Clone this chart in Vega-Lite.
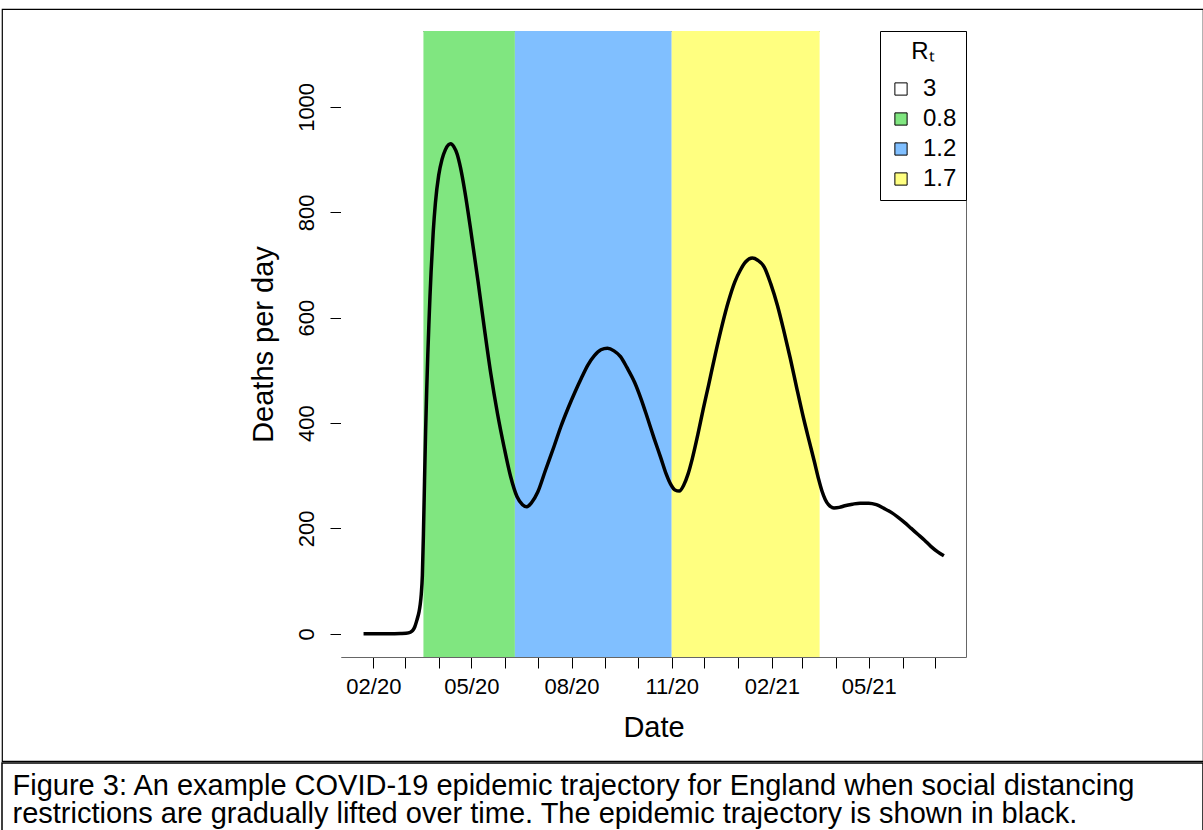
{
  "$schema": "https://vega.github.io/schema/vega-lite/v6.json",
  "background": "white",
  "padding": {"left": 1, "right": 1, "top": 8, "bottom": 0},
  "spacing": 0,
  "config": {
    "font": "Liberation Sans",
    "view": {"stroke": null},
    "axis": {"labelColor": "black", "titleColor": "black", "tickColor": "black", "labelFont": "Liberation Sans", "titleFont": "Liberation Sans", "domainColor": "#666666", "grid": false, "zindex": 1}
  },
  "vconcat": [
    {
      "width": 1201,
      "height": 752,
      "view": {"stroke": "black", "strokeWidth": 1.2},
      "resolve": {"axis": {"x": "independent", "y": "independent"}},
      "layer": [
        {
          "data": {"values": [
            {"Rt": "3", "start": "2020-01-02T07:00:00Z", "end": "2020-03-18"},
            {"Rt": "0.8", "start": "2020-03-18", "end": "2020-06-10"},
            {"Rt": "1.2", "start": "2020-06-10", "end": "2020-11-01"},
            {"Rt": "1.7", "start": "2020-11-01", "end": "2021-03-17"},
            {"Rt": "3", "start": "2021-03-17", "end": "2021-07-29T07:00:00Z"}
          ]},
          "mark": {"type": "rect"},
          "encoding": {
            "x": {
              "field": "start", "type": "temporal",
              "scale": {"type": "utc", "domain": [{"year": 2020, "month": 1, "date": 2, "hours": 7, "utc": true}, {"year": 2021, "month": 7, "date": 29, "hours": 7, "utc": true}], "range": [339, 964], "nice": false},
              "axis": {
                "orient": "bottom", "offset": -104,
                "title": "Date", "titleFontSize": 29, "titleFontWeight": "normal", "titlePadding": 16,
                "tickCount": {"interval": "month", "step": 1},
                "labelExpr": "utcmonth(datum.value) % 3 == 1 ? utcFormat(datum.value, '%m/%y') : ''",
                "labelOverlap": false, "labelFlush": false, "labelFontSize": 22, "labelPadding": 8,
                "tickSize": 11, "domain": true
              }
            },
            "x2": {"field": "end"},
            "y": {
              "datum": 1144, "type": "quantitative",
              "scale": {"domain": [-44, 1144], "range": [648, 22], "nice": false, "zero": false},
              "axis": {
                "orient": "left", "offset": -339,
                "title": "Deaths per day", "titleFontSize": 29, "titleFontWeight": "normal", "titlePadding": 17,
                "values": [0, 200, 400, 600, 800, 1000], "format": "d",
                "labelAngle": -90, "labelAlign": "center", "labelBaseline": "bottom", "labelFontSize": 22, "labelPadding": 12,
                "tickSize": 11, "domain": true
              }
            },
            "y2": {"datum": -44},
            "color": {
              "field": "Rt", "type": "nominal",
              "scale": {"domain": ["3", "0.8", "1.2", "1.7"], "range": ["#FFFFFF", "#80E680", "#80BFFF", "#FFFF80"]},
              "legend": {
                "title": "Rₜ", "orient": "none", "legendX": 878, "legendY": 22,
                "strokeColor": "black", "fillColor": "white", "padding": 9,
                "titleFontSize": 24, "titleFontWeight": "normal", "titleAnchor": "middle", "titleAlign": "center", "titlePadding": 13, "titleColor": "black", "titleFont": "Liberation Sans",
                "labelFontSize": 24, "labelColor": "black", "labelOffset": 10, "labelFont": "Liberation Sans",
                "symbolType": "square", "symbolSize": 150, "symbolStrokeColor": "black", "symbolStrokeWidth": 1, "symbolOpacity": 1,
                "rowPadding": 6
              }
            }
          }
        },
        {
          "data": {"values": [
            {"date": "2020-01-23", "deaths": 0},
            {"date": "2020-02-01", "deaths": 0},
            {"date": "2020-02-16", "deaths": 0},
            {"date": "2020-02-26", "deaths": 0.5},
            {"date": "2020-03-02", "deaths": 1},
            {"date": "2020-03-06", "deaths": 3},
            {"date": "2020-03-08", "deaths": 6},
            {"date": "2020-03-10", "deaths": 13},
            {"date": "2020-03-12", "deaths": 26},
            {"date": "2020-03-14", "deaths": 42},
            {"date": "2020-03-15", "deaths": 55},
            {"date": "2020-03-16", "deaths": 75},
            {"date": "2020-03-17", "deaths": 110},
            {"date": "2020-03-18", "deaths": 190},
            {"date": "2020-03-19", "deaths": 290},
            {"date": "2020-03-20", "deaths": 385},
            {"date": "2020-03-21", "deaths": 462},
            {"date": "2020-03-22", "deaths": 529},
            {"date": "2020-03-23", "deaths": 587},
            {"date": "2020-03-24", "deaths": 640},
            {"date": "2020-03-25", "deaths": 686},
            {"date": "2020-03-27", "deaths": 763},
            {"date": "2020-03-29", "deaths": 818},
            {"date": "2020-04-01", "deaths": 870},
            {"date": "2020-04-04", "deaths": 900},
            {"date": "2020-04-07", "deaths": 918},
            {"date": "2020-04-10", "deaths": 928},
            {"date": "2020-04-12", "deaths": 930},
            {"date": "2020-04-15", "deaths": 924},
            {"date": "2020-04-18", "deaths": 910},
            {"date": "2020-04-21", "deaths": 885},
            {"date": "2020-04-25", "deaths": 840},
            {"date": "2020-05-01", "deaths": 758},
            {"date": "2020-05-07", "deaths": 671},
            {"date": "2020-05-13", "deaths": 579},
            {"date": "2020-05-19", "deaths": 492},
            {"date": "2020-05-25", "deaths": 418},
            {"date": "2020-05-31", "deaths": 355},
            {"date": "2020-06-06", "deaths": 299},
            {"date": "2020-06-12", "deaths": 260},
            {"date": "2020-06-17", "deaths": 245},
            {"date": "2020-06-21", "deaths": 241},
            {"date": "2020-06-25", "deaths": 248},
            {"date": "2020-07-01", "deaths": 269},
            {"date": "2020-07-08", "deaths": 310},
            {"date": "2020-07-16", "deaths": 356},
            {"date": "2020-07-22", "deaths": 392},
            {"date": "2020-07-29", "deaths": 429},
            {"date": "2020-08-04", "deaths": 458},
            {"date": "2020-08-10", "deaths": 485},
            {"date": "2020-08-16", "deaths": 510},
            {"date": "2020-08-22", "deaths": 528},
            {"date": "2020-08-28", "deaths": 539},
            {"date": "2020-09-03", "deaths": 542},
            {"date": "2020-09-09", "deaths": 537},
            {"date": "2020-09-15", "deaths": 526},
            {"date": "2020-09-21", "deaths": 505},
            {"date": "2020-09-28", "deaths": 477},
            {"date": "2020-10-04", "deaths": 445},
            {"date": "2020-10-10", "deaths": 408},
            {"date": "2020-10-16", "deaths": 370},
            {"date": "2020-10-22", "deaths": 334},
            {"date": "2020-10-27", "deaths": 303},
            {"date": "2020-10-31", "deaths": 284},
            {"date": "2020-11-04", "deaths": 273},
            {"date": "2020-11-08", "deaths": 271},
            {"date": "2020-11-12", "deaths": 282},
            {"date": "2020-11-16", "deaths": 303},
            {"date": "2020-11-20", "deaths": 333},
            {"date": "2020-11-25", "deaths": 378},
            {"date": "2020-11-30", "deaths": 427},
            {"date": "2020-12-05", "deaths": 473},
            {"date": "2020-12-11", "deaths": 530},
            {"date": "2020-12-17", "deaths": 583},
            {"date": "2020-12-23", "deaths": 630},
            {"date": "2020-12-29", "deaths": 668},
            {"date": "2021-01-03", "deaths": 690},
            {"date": "2021-01-08", "deaths": 706},
            {"date": "2021-01-14", "deaths": 713},
            {"date": "2021-01-19", "deaths": 709},
            {"date": "2021-01-25", "deaths": 696},
            {"date": "2021-01-31", "deaths": 664},
            {"date": "2021-02-06", "deaths": 624},
            {"date": "2021-02-12", "deaths": 575},
            {"date": "2021-02-18", "deaths": 522},
            {"date": "2021-02-24", "deaths": 465},
            {"date": "2021-03-02", "deaths": 410},
            {"date": "2021-03-07", "deaths": 368},
            {"date": "2021-03-12", "deaths": 327},
            {"date": "2021-03-16", "deaths": 293},
            {"date": "2021-03-19", "deaths": 271},
            {"date": "2021-03-22", "deaths": 255},
            {"date": "2021-03-25", "deaths": 245},
            {"date": "2021-03-30", "deaths": 239},
            {"date": "2021-04-04", "deaths": 240},
            {"date": "2021-04-09", "deaths": 243},
            {"date": "2021-04-16", "deaths": 246},
            {"date": "2021-04-23", "deaths": 248},
            {"date": "2021-05-01", "deaths": 248},
            {"date": "2021-05-08", "deaths": 245},
            {"date": "2021-05-15", "deaths": 238},
            {"date": "2021-05-22", "deaths": 230},
            {"date": "2021-05-28", "deaths": 221},
            {"date": "2021-06-03", "deaths": 211},
            {"date": "2021-06-09", "deaths": 200},
            {"date": "2021-06-15", "deaths": 189},
            {"date": "2021-06-21", "deaths": 178},
            {"date": "2021-06-27", "deaths": 166},
            {"date": "2021-07-03", "deaths": 156},
            {"date": "2021-07-09", "deaths": 148}
          ]},
          "mark": {"type": "line", "color": "black", "strokeWidth": 3.5, "interpolate": "monotone"},
          "encoding": {
            "x": {
              "field": "date", "type": "temporal",
              "axis": {"orient": "top", "offset": -22, "title": null, "labels": false, "ticks": false, "domain": true}
            },
            "y": {
              "field": "deaths", "type": "quantitative",
              "axis": {"orient": "right", "offset": -237, "title": null, "labels": false, "ticks": false, "domain": true}
            }
          }
        }
      ]
    },
    {
      "width": 1201,
      "height": 70,
      "view": {"stroke": "black", "strokeWidth": 1.5},
      "data": {"values": [
        {"caption": "Figure 3: An example COVID-19 epidemic trajectory for England when social distancing\nrestrictions are gradually lifted over time. The epidemic trajectory is shown in black."}
      ]},
      "mark": {"type": "text", "align": "left", "baseline": "middle", "lineBreak": "\n", "lineHeight": 28, "fontSize": 29, "font": "Liberation Sans", "color": "black", "dx": -590, "dy": -12},
      "encoding": {"text": {"field": "caption", "type": "nominal"}}
    }
  ]
}
